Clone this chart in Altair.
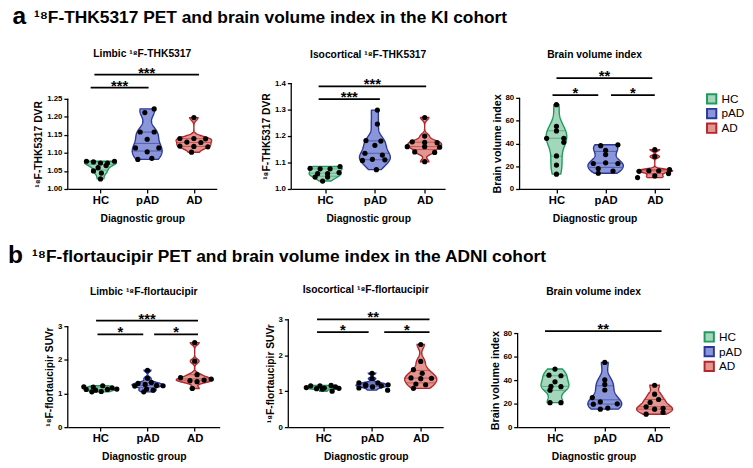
import altair as alt
import numpy as np
import pandas as pd

FONT = "Liberation Sans"
GROUPS = ["HC", "pAD", "AD"]
FILL_COLORS = ["#a3d6bb", "#8a96d9", "#e3968f"]
LINE_COLORS = ["#1e9a5c", "#2b3899", "#b2272d"]

# ---------------- Panel a: KI cohort ----------------
# a1  Limbic 18F-THK5317 DVR
A1_HC = [1.077, 1.075, 1.072, 1.072, 1.077, 1.065, 1.059, 1.050, 1.044, 1.028]
A1_HC_JIT = [-0.30, -0.15, 0.00, 0.15, 0.30, 0.12, -0.05, -0.15, 0.02, 0.00]
A1_PAD = [1.222, 1.212, 1.158, 1.158, 1.138, 1.114, 1.114, 1.103, 1.082, 1.085]
A1_PAD_JIT = [0.15, -0.05, -0.15, 0.15, 0.00, -0.25, 0.25, 0.00, -0.20, 0.10]
A1_AD = [1.198, 1.140, 1.140, 1.139, 1.130, 1.129, 1.119, 1.118, 1.117, 1.102]
A1_AD_JIT = [0.00, -0.30, 0.00, 0.25, -0.15, 0.15, -0.30, 0.00, 0.30, -0.05]
A1_SIG = [(-0.21, 1.03, 1.281, "***"), (-0.13, 2.11, 1.317, "***")]

# a2  Isocortical 18F-THK5317 DVR
A2_HC = [1.078, 1.076, 1.076, 1.085, 1.058, 1.058, 1.062, 1.045, 1.045, 1.030]
A2_HC_JIT = [-0.30, -0.10, 0.10, 0.30, -0.15, 0.05, 0.28, -0.20, 0.05, -0.05]
A2_PAD = [1.298, 1.245, 1.183, 1.181, 1.165, 1.135, 1.128, 1.112, 1.110, 1.108, 1.073]
A2_PAD_JIT = [0.05, 0.05, -0.18, 0.12, 0.00, -0.20, 0.15, -0.05, 0.20, -0.25, 0.03]
A2_AD = [1.270, 1.200, 1.178, 1.176, 1.175, 1.160, 1.160, 1.158, 1.140, 1.138, 1.103]
A2_AD_JIT = [0.00, 0.00, -0.25, 0.00, 0.25, -0.35, 0.00, 0.30, -0.20, 0.20, 0.00]
A2_SIG = [(-0.13, 1.10, 1.339, "***"), (-0.13, 2.03, 1.388, "***")]

# a3  Brain volume index (KI)
A3_HC = [74.0, 55.0, 51.0, 44.5, 44.5, 41.0, 29.0, 21.0, 13.0]
A3_HC_JIT = [0.00, 0.00, 0.00, -0.20, 0.15, 0.15, 0.00, 0.00, 0.00]
A3_PAD = [38.0, 38.8, 34.0, 30.2, 22.4, 23.0, 22.4, 18.0, 15.8, 13.8]
A3_PAD_JIT = [-0.10, 0.25, 0.00, 0.00, -0.25, 0.00, 0.25, -0.15, 0.15, -0.15]
A3_AD = [34.5, 28.5, 15.5, 16.0, 16.0, 17.0, 10.0, 11.5, 13.5]
A3_AD_JIT = [0.00, 0.00, -0.32, -0.12, 0.08, 0.30, -0.35, 0.00, 0.28]
A3_SIG = [(0.0, 1.95, 97.4, "**"), (-0.08, 0.85, 82.5, "*"), (1.11, 2.0, 82.5, "*")]

# ---------------- Panel b: ADNI cohort ----------------
# b1  Limbic 18F-flortaucipir SUVr
B1_HC = [1.20, 1.19, 1.23, 1.17, 1.12, 1.10, 1.12, 1.13, 1.06, 1.05]
B1_HC_JIT = [-0.35, -0.15, 0.05, 0.25, -0.30, -0.10, 0.15, 0.35, 0.02, -0.18]
B1_PAD = [1.69, 1.45, 1.30, 1.33, 1.27, 1.22, 1.24, 1.23, 1.13, 1.10, 1.05]
B1_PAD_JIT = [0.00, 0.00, -0.20, 0.08, -0.05, -0.27, 0.19, 0.33, -0.02, 0.12, -0.08]
B1_AD = [2.51, 1.96, 1.56, 1.47, 1.43, 1.40, 1.38, 1.35, 1.15]
B1_AD_JIT = [0.00, 0.00, 0.05, -0.30, 0.35, 0.20, -0.10, 0.05, -0.05]
B1_SIG = [(-0.09, 2.07, 3.165, "***"), (-0.06, 0.91, 2.757, "*"), (1.14, 2.07, 2.757, "*")]

# b2  Isocortical 18F-flortaucipir SUVr
B2_HC = [1.15, 1.15, 1.07, 1.09, 1.16, 1.12, 1.06, 1.00, 1.08, 1.10]
B2_HC_JIT = [-0.26, -0.07, -0.14, 0.02, 0.16, 0.25, -0.02, 0.18, 0.32, -0.35]
B2_PAD = [1.50, 1.35, 1.23, 1.18, 1.23, 1.18, 1.09, 1.15, 1.12, 1.15, 1.03]
B2_PAD_JIT = [0.00, 0.00, -0.27, -0.13, 0.12, 0.33, -0.27, -0.13, 0.01, 0.19, 0.32]
B2_AD = [2.30, 1.83, 1.60, 1.50, 1.37, 1.35, 1.36, 1.20, 1.18, 1.08]
B2_AD_JIT = [0.00, 0.00, -0.15, 0.03, -0.20, 0.00, 0.22, -0.10, 0.10, -0.15]
B2_SIG = [(-0.13, 2.18, 3.0, "**"), (-0.13, 0.93, 2.645, "*"), (1.25, 2.18, 2.645, "*")]

# b3  Brain volume index (ADNI)
B3_HC = [49.4, 44.2, 43.7, 38.5, 34.6, 34.4, 31.4, 20.8, 20.8]
B3_HC_JIT = [0.00, -0.12, 0.12, 0.00, -0.08, 0.12, -0.10, -0.10, 0.12]
B3_PAD = [55.0, 40.2, 36.3, 31.6, 25.1, 21.5, 19.8, 19.5, 15.3, 16.2]
B3_PAD_JIT = [0.00, 0.00, 0.00, 0.00, -0.25, -0.09, 0.25, -0.23, -0.09, 0.06]
B3_AD = [35.6, 28.0, 21.0, 23.5, 17.3, 15.3, 16.0, 12.5, 11.0]
B3_AD_JIT = [0.00, 0.00, -0.09, 0.08, -0.17, 0.00, 0.17, 0.17, -0.17]
B3_SIG = [(-0.20, 2.14, 81.7, "**")]

BW_FACTOR = 0.7
STEPS = 120


def scott(v):
    v = np.asarray(v, dtype=float)
    sd = np.std(v, ddof=1)
    q1, q3 = np.percentile(v, [25, 75])
    s = min(sd, (q3 - q1) / 1.34) if q3 > q1 else sd
    return 1.06 * s * len(v) ** -0.2


def panel(title, ytitle, vals, jits, sig, yaxis_range, ytop, yticks, yfmt, width, height,
          xdomain, halfw, toff, legend_xy=None, ytitle_size=10.5):
    rows = []
    for gi, g in enumerate(GROUPS):
        for v, j in zip(vals[gi], jits[gi]):
            rows.append({"group": g, "gi": gi, "value": v, "xp": gi + j})
    df = pd.DataFrame(rows)
    sdf = pd.DataFrame(sig, columns=["x1", "x2", "y", "lab"])
    ymin, ymax = yaxis_range
    axis_px = height * (ymax - ymin) / (ytop - ymin)

    xs = alt.Scale(domain=xdomain, nice=False, zero=False)
    ys = alt.Scale(domain=[ymin, ytop], nice=False, zero=False)
    xax = alt.Axis(values=[0, 1, 2], labelExpr="['HC','pAD','AD'][datum.value]",
                   labelFontSize=11.5, labelFontWeight="bold", labelPadding=2,
                   titleFontSize=10.5, titleFontWeight="bold", titlePadding=8,
                   tickSize=4, tickWidth=1.3, domainWidth=1.3, labelAngle=0,
                   labelFlush=False)
    yax = alt.Axis(values=yticks, format=yfmt, labelFontSize=8, labelFontWeight="bold",
                   labelPadding=2, titleFontSize=ytitle_size, titleFontWeight="bold",
                   titlePadding=3, tickSize=4, tickWidth=1.3, domain=False,
                   labelFlush=False, titleY=height - axis_px / 2)

    def X(f):
        return alt.X(f, type="quantitative", scale=xs, axis=xax, title="Diagnostic group")

    def Y(f):
        return alt.Y(f, type="quantitative", scale=ys, axis=yax, title=ytitle)

    if legend_xy is not None:
        leg = alt.Legend(title=None, symbolType="square", symbolSize=90,
                         symbolStrokeWidth=2, labelFontSize=12, labelFont=FONT,
                         orient="none", legendX=legend_xy[0], legendY=legend_xy[1],
                         rowPadding=-5, labelOffset=4)
    else:
        leg = None
    fill = alt.Fill("group:N", scale=alt.Scale(domain=GROUPS, range=FILL_COLORS), legend=leg)
    stroke = alt.Stroke("group:N", scale=alt.Scale(domain=GROUPS, range=LINE_COLORS), legend=leg)

    base = alt.Chart(df)
    layers = []
    for gi, g in enumerate(GROUPS):
        v = vals[gi]
        bw = BW_FACTOR * scott(v)
        lo, hi = float(min(v)), float(max(v))
        hw = halfw[gi]
        sub = base.transform_filter(f"datum.gi == {gi}")
        violin = sub.transform_density(
            "value", groupby=["group"], as_=["value", "density"],
            bandwidth=bw, extent=[lo, hi], steps=STEPS
        ).transform_joinaggregate(
            maxd="max(density)"
        ).transform_calculate(
            xl=f"{gi} - {hw}*datum.density/datum.maxd",
            xr=f"{gi} + {hw}*datum.density/datum.maxd",
        ).mark_area(orient="horizontal", strokeWidth=1.4, fillOpacity=1).encode(
            y=Y("value"), x=X("xl"), x2="xr:Q", fill=fill, stroke=stroke
        )
        quart = sub.transform_joinaggregate(
            q1="q1(value)", q2="median(value)", q3="q3(value)"
        ).transform_fold(
            ["q1", "q2", "q3"], as_=["qk", "qv"]
        ).transform_density(
            "value", groupby=["group", "qk", "qv"], as_=["value", "density"],
            bandwidth=bw, extent=[lo, hi], steps=STEPS
        ).transform_joinaggregate(
            maxd="max(density)", groupby=["qk"]
        ).transform_calculate(
            dist="abs(datum.value - datum.qv)"
        ).transform_joinaggregate(
            mind="min(dist)", groupby=["qk"]
        ).transform_filter(
            "datum.dist == datum.mind"
        ).transform_calculate(
            xl=f"{gi} - {hw}*datum.density/datum.maxd",
            xr=f"{gi} + {hw}*datum.density/datum.maxd",
        ).mark_rule(strokeWidth=0.8, opacity=0.75).encode(
            y=Y("value"), x=X("xl"), x2="xr:Q", stroke=stroke
        )
        layers += [violin, quart]

    points = base.mark_circle(size=28, color="black", opacity=1).encode(
        x=X("xp"), y=Y("value")
    )
    adf = pd.DataFrame({"x": [xdomain[0]], "y": [ymin], "y2": [ymax]})
    yline = alt.Chart(adf).mark_rule(strokeWidth=1.3, color="black").encode(
        x=X("x"), y=Y("y"), y2="y2:Q"
    )
    sc = alt.Chart(sdf)
    rules = sc.mark_rule(strokeWidth=1.8, color="black").encode(
        x=X("x1"), x2="x2:Q", y=Y("y")
    )
    stars = sc.transform_calculate(xm="(datum.x1 + datum.x2) / 2").mark_text(
        fontSize=15, fontWeight="bold", baseline="bottom", dy=6, color="black"
    ).encode(x=X("xm"), y=Y("y"), text="lab:N")

    return alt.layer(*layers, points, yline, rules, stars).properties(
        width=width, height=height,
        title=alt.TitleParams(text=title, fontSize=10.5, fontWeight="bold",
                              anchor="middle", offset=toff, color="black"),
    )


HA = 124   # plot height, row a
HB = 117   # plot height, row b

a1 = panel("Limbic ¹⁸F-THK5317", "¹⁸F-THK5317 DVR",
           [A1_HC, A1_PAD, A1_AD], [A1_HC_JIT, A1_PAD_JIT, A1_AD_JIT], A1_SIG,
           (1.0, 1.25), 1.337, [1.0, 1.05, 1.10, 1.15, 1.20, 1.25], ".2f",
           152, HA, [-0.70, 2.49], [0.34, 0.32, 0.38], 7)
a2 = panel("Isocortical ¹⁸F-THK5317", "¹⁸F-THK5317 DVR",
           [A2_HC, A2_PAD, A2_AD], [A2_HC_JIT, A2_PAD_JIT, A2_AD_JIT], A2_SIG,
           (1.0, 1.4), 1.459, [1.0, 1.1, 1.2, 1.3, 1.4], ".1f",
           157, HA, [-0.68, 2.41], [0.34, 0.31, 0.34], 7)
a3 = panel("Brain volume index", "Brain volume index",
           [A3_HC, A3_PAD, A3_AD], [A3_HC_JIT, A3_PAD_JIT, A3_AD_JIT], A3_SIG,
           (0, 80), 106.7, [0, 20, 40, 60, 80], "d",
           153, HA, [-0.75, 2.30], [0.21, 0.36, 0.36], 7, (190, 26), 11)

b1 = panel("Limbic ¹⁸F-flortaucipir", "¹⁸F-flortaucipir SUVr",
           [B1_HC, B1_PAD, B1_AD], [B1_HC_JIT, B1_PAD_JIT, B1_AD_JIT], B1_SIG,
           (0, 3), 3.408, [0, 1, 2, 3], "d",
           155, HB, [-0.69, 2.53], [0.34, 0.33, 0.39], 15)
b2 = panel("Isocortical ¹⁸F-flortaucipir", "¹⁸F-flortaucipir SUVr",
           [B2_HC, B2_PAD, B2_AD], [B2_HC_JIT, B2_PAD_JIT, B2_AD_JIT], B2_SIG,
           (0, 3), 3.191, [0, 1, 2, 3], "d",
           158, HB, [-0.72, 2.46], [0.33, 0.33, 0.33], 15)
b3 = panel("Brain volume index", "Brain volume index",
           [B3_HC, B3_PAD, B3_AD], [B3_HC_JIT, B3_PAD_JIT, B3_AD_JIT], B3_SIG,
           (0, 80), 97.5, [0, 20, 40, 60, 80], "d",
           155, HB, [-0.75, 2.30], [0.28, 0.34, 0.36], 15, (189.5, 19), 11)


def row(letter, heading, panels, spacings, dx, offset, letter_dy):
    inner = alt.hconcat(
        alt.hconcat(panels[0], panels[1], spacing=spacings[0]).resolve_scale(
            fill="independent", stroke="independent"),
        panels[2], spacing=spacings[1],
    ).resolve_scale(
        fill="independent", stroke="independent"
    ).properties(
        title=alt.TitleParams(text=heading, anchor="start", fontSize=17.7,
                              fontWeight="bold", color="black", dx=dx, offset=offset)
    )
    return alt.vconcat(inner).resolve_scale(
        fill="independent", stroke="independent"
    ).properties(
        title=alt.TitleParams(text=letter, orient="left", anchor="end", angle=0,
                              align="right", baseline="top", fontSize=25,
                              fontWeight="bold", color="black", offset=-6, dy=letter_dy)
    )


rowA = row("a", "¹⁸F-THK5317 PET and brain volume index in the KI cohort",
           [a1, a2, a3], (45, 47), 0, 22.5, -5)
rowB = row("b", "¹⁸F-flortaucipir PET and brain volume index in the ADNI cohort",
           [b1, b2, b3], (46, 47), -13, 20, -5)

chart = alt.vconcat(rowA, rowB, spacing=19).resolve_scale(
    fill="independent", stroke="independent"
).properties(
    padding={"left": 0, "top": -9, "right": 0, "bottom": 0}
).configure(
    font=FONT
).configure_view(
    stroke=None
).configure_axis(
    grid=False, domainColor="black", tickColor="black", labelColor="black",
    titleColor="black", labelFont=FONT, titleFont=FONT
).configure_title(
    font=FONT, color="black"
)

chart.save("out.html", embed_options={"renderer": "svg", "actions": False})
